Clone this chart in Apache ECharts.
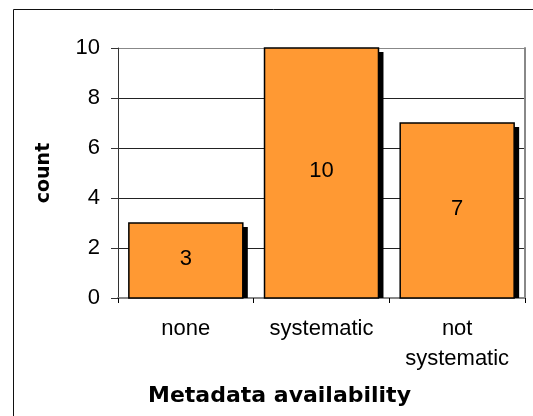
<!DOCTYPE html>
<html>
<head>
<meta charset="utf-8">
<script src="https://cdn.jsdelivr.net/npm/echarts@6/dist/echarts.min.js"></script>
<style>html,body{margin:0;padding:0;background:#fff}#c{width:533px;height:416px}</style>
</head>
<body>
<div id="c"></div>
<script>
var categories = ['none', 'systematic', 'not\nsystematic'];
var counts = [3, 10, 7];
var yTicks = [0, 2, 4, 6, 8, 10];
var axisTitleX = 'Metadata availability';
var axisTitleY = 'count';

var chart = echarts.init(document.getElementById('c'), null, {renderer: 'canvas'});
var normalFont = '"Liberation Sans", Arial, sans-serif';
var boldFont = '"DejaVu Sans", sans-serif';

chart.setOption({
  animation: false,
  backgroundColor: '#fff',
  title: {
    text: axisTitleX,
    left: 148, top: 385, padding: 0,
    textStyle: {fontFamily: boldFont, fontWeight: 'bold', fontSize: 22, color: '#000', lineHeight: 22}
  },
  graphic: [{
    type: 'rect', left: 11, top: 7, silent: true,
    shape: {x: 0, y: 0, width: 600, height: 600},
    style: {fill: 'none', stroke: '#111', lineWidth: 1}
  }],
  grid: {left: 118, right: 8, top: 48, bottom: 118},
  xAxis: [{
    type: 'category', data: categories, position: 'bottom',
    axisLine: {show: true, lineStyle: {color: '#000', width: 1}},
    axisTick: {show: true, length: 5, lineStyle: {color: '#000'}},
    axisLabel: {interval: 0, margin: 16, fontFamily: normalFont, fontSize: 22, lineHeight: 30, color: '#000'}
  }, {
    type: 'category', data: categories, position: 'top',
    axisLine: {show: true, lineStyle: {color: '#888', width: 2}},
    axisTick: {show: false}, axisLabel: {show: false}
  }],
  yAxis: [{
    type: 'value', min: yTicks[0], max: yTicks[yTicks.length - 1], interval: 2,
    name: axisTitleY, nameLocation: 'middle', nameGap: 64,
    nameTextStyle: {fontFamily: boldFont, fontWeight: 'bold', fontSize: 19, color: '#000'},
    axisLine: {show: true, lineStyle: {color: '#333', width: 1}},
    axisTick: {show: true, length: 7, lineStyle: {color: '#333'}},
    axisLabel: {margin: 18, fontFamily: normalFont, fontSize: 22, color: '#000'},
    splitLine: {show: true, lineStyle: {color: ['#222', '#222', '#222', '#222', '#222', '#888'], width: 1}}
  }, {
    type: 'value', min: 0, max: 10, interval: 2, position: 'right',
    axisLine: {show: true, lineStyle: {color: '#888', width: 2}},
    axisTick: {show: false}, axisLabel: {show: false}, splitLine: {show: false}
  }],
  series: [{
    type: 'custom',
    data: counts.map(function (v, i) { return [i, v]; }),
    encode: {x: 0, y: 1},
    renderItem: function (params, api) {
      var top = api.coord([api.value(0), api.value(1)]);
      var base = api.coord([api.value(0), 0]);
      var w = api.size([1, 0])[0] * 0.84;
      var left = top[0] - w / 2;
      var h = base[1] - top[1];
      return {
        type: 'group',
        children: [{
          type: 'rect',
          shape: {x: left + 5, y: top[1] + 4, width: w, height: h - 4},
          style: {fill: '#000'}
        }, {
          type: 'rect',
          shape: {x: left, y: top[1], width: w, height: h},
          style: {fill: '#FF9933', stroke: '#000', lineWidth: 1.5},
          textContent: {
            style: {text: String(api.value(1)), fontFamily: normalFont, fontSize: 22, fill: '#000'}
          },
          textConfig: {position: 'inside', offset: [0, -2]}
        }]
      };
    }
  }]
});
</script>
</body>
</html>
